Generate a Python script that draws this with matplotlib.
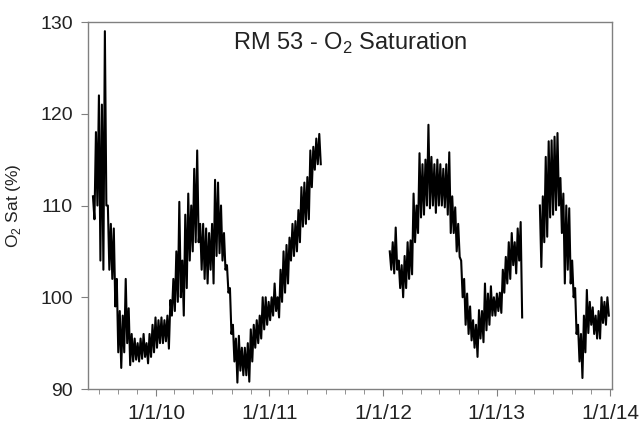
import numpy as np
import pandas as pd
import matplotlib
matplotlib.use('Agg')
import matplotlib.pyplot as plt
import matplotlib.dates as mdates
from matplotlib.ticker import FuncFormatter

plt.rcParams['font.family'] = ['Liberation Sans', 'DejaVu Sans']

# O2 saturation (%), upper and lower envelope of the daily swings,
# read off the chart about every 10 days for each logging period
seg1_start, seg1_end = '2009-06-12', '2011-06-15'
seg1_hi = [111, 118, 122, 121, 129, 110, 108, 107.5, 102, 98.5,
           98, 102, 98.8, 96, 95.5, 95, 95.5, 96, 95, 96,
           97, 97.8, 97.5, 97.8, 97.5, 98, 99.7, 102, 105, 110.4,
           104, 109, 111.3, 110, 114, 116, 108, 108, 107.5, 107,
           108, 112.8, 112.5, 110, 107, 103.5, 101, 97, 95.5, 95.8,
           94.5, 94.5, 95, 96.5, 97, 97.5, 98, 100, 100, 99.5,
           100, 101.5, 100, 103, 105, 105.7, 106.5, 108, 108.3, 109.5,
           112, 112.5, 113.1, 116, 116.4, 117.3, 117.8]
seg1_lo = [108.5, 110, 104, 103, 110, 103, 102, 99, 94, 92.3,
           94, 95, 92.6, 93, 93.2, 93, 93.3, 93.5, 92.8, 93.5,
           94, 94.5, 95, 95, 95.2, 94.4, 98, 98.5, 99.5, 100,
           98, 101, 104, 105, 106, 106, 103, 102, 101.5, 103,
           101.5, 104.5, 104.8, 104, 103, 100.5, 96, 93, 90.7, 92,
           91.5, 91.5, 90.8, 93, 94.5, 95, 95.5, 96.5, 97, 97.5,
           98, 98.5, 97.8, 99.5, 100.5, 101.5, 104, 104.5, 105, 106,
           107.7, 108, 108.5, 112, 113.9, 114.5, 114.5]

seg2_start, seg2_end = '2012-01-23', '2013-03-24'
seg2_hi = [105, 106, 107.6, 104, 103.5, 104.5, 106, 106.2, 111.3, 110,
           115.7, 114.5, 115, 118.8, 115.3, 114.5, 115, 114.5, 114, 114.5,
           115.8, 111, 109.8, 108, 104, 102, 100.4, 99, 97.5, 97,
           98.6, 98.5, 101.5, 100.4, 101.2, 100, 100.4, 100.5, 103, 104.4,
           106, 107, 106, 107.5, 108.2]
seg2_lo = [103, 102.6, 103, 101, 100, 101, 102, 102.5, 106, 107,
           108.7, 109, 110, 109.7, 110, 109.2, 110, 110, 109.8, 109,
           107, 107, 105, 104.4, 100, 97, 96, 95.3, 94.5, 93.5,
           95.5, 95.1, 96.4, 97, 98, 98, 98.5, 98.3, 100.5, 101.5,
           102, 103.5, 102.6, 104, 97.8]

seg3_start, seg3_end = '2013-05-20', '2013-12-28'
seg3_hi = [110, 111, 115.3, 117, 117.1, 117.5, 117.9, 113, 111.3, 110,
           109.7, 104, 101, 97, 96, 98, 100.8, 99.5, 98.9, 98,
           98.5, 100, 99.5, 100]
seg3_lo = [103.3, 106, 106.6, 108.7, 109, 109.5, 110, 107, 101.5, 103,
           101.5, 100, 96, 93, 91.2, 94, 96.1, 97, 96, 95.5,
           95.5, 97.2, 97, 98]

segments = [(seg1_start, seg1_end, seg1_hi, seg1_lo),
            (seg2_start, seg2_end, seg2_hi, seg2_lo),
            (seg3_start, seg3_end, seg3_hi, seg3_lo)]

fig = plt.figure(figsize=(6.39, 4.29), dpi=100)
ax = fig.add_axes([0.1377, 0.0932, 0.82, 0.8555])

for start, end, hi, lo in segments:
    # alternate high/low readings so the trace looks like the noisy record
    vals = np.column_stack([hi, lo]).ravel()
    dates = pd.date_range(start, end, periods=len(vals))
    ax.plot(dates, vals, color='black', linewidth=1.5)

ax.set_xlim(pd.Timestamp('2009-05-27'), pd.Timestamp('2014-01-07'))
ax.set_ylim(90, 130)
ax.set_yticks([90, 100, 110, 120, 130])

ax.xaxis.set_major_locator(mdates.YearLocator())
ax.xaxis.set_minor_locator(mdates.MonthLocator(bymonth=[1, 3, 5, 7, 9, 11]))

def date_label(x, pos):
    d = mdates.num2date(x)
    if d.year == 2009:
        return ''
    return f'{d.month}/{d.day}/{d:%y}'

ax.xaxis.set_major_formatter(FuncFormatter(date_label))

for sp in ax.spines.values():
    sp.set_color('#808080')
    sp.set_linewidth(1.0)

ax.tick_params(axis='both', which='major', direction='out', length=5,
               color='#808080', labelcolor='#222222')
ax.tick_params(axis='x', which='major', labelsize=15, pad=6)
ax.tick_params(axis='y', which='major', labelsize=14, pad=6)
ax.tick_params(axis='x', which='minor', direction='out', length=3.5, color='#808080')

ax.set_ylabel('O$_\\mathregular{2}$ Sat (%)', fontsize=12.5, color='#222222', labelpad=12)

ax.text(0.5, 0.975, 'RM 53 - O$_\\mathregular{2}$ Saturation', transform=ax.transAxes,
        ha='center', va='top', fontsize=17, color='#222222')

fig.savefig('out.png', dpi=100)
